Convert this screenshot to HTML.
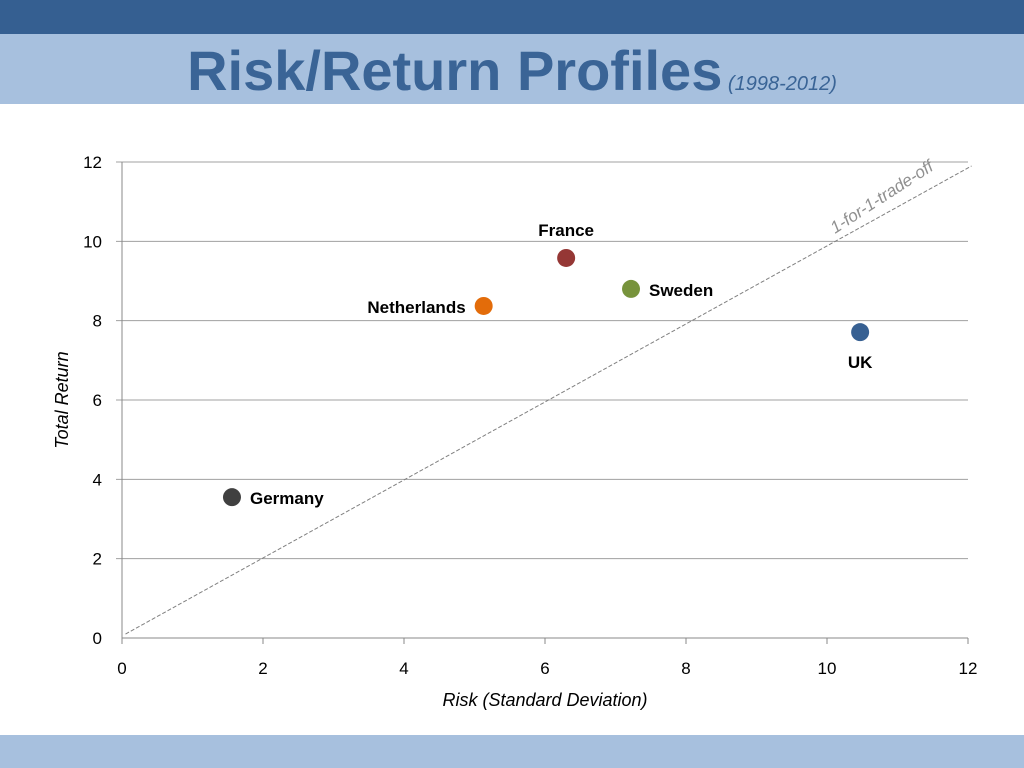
<!DOCTYPE html>
<html><head><meta charset="utf-8"><style>
body{margin:0;width:1024px;height:768px;background:#fff;font-family:"Liberation Sans",sans-serif;overflow:hidden;position:relative}
#top{position:absolute;left:0;top:0;width:1024px;height:34px;background:#355f91}
#band{position:absolute;left:0;top:34px;width:1024px;height:70px;background:#a7c0de}
#title{position:absolute;left:0;top:34px;width:1024px;text-align:center;line-height:74px;color:#3a6496;font-size:56px;font-weight:bold}
#title span{font-size:20px;font-style:italic;font-weight:normal;color:#3a6496}
#bot{position:absolute;left:0;top:735px;width:1024px;height:33px;background:#a7c0de}
svg{position:absolute;left:0;top:0}
</style></head><body>
<div id="top"></div>
<div id="band"></div>
<div id="title">Risk/Return Profiles<span> (1998-2012)</span></div>
<div id="bot"></div>
<svg id="chart" width="1024" height="768"></svg>
<script>
const countries=["Germany","Netherlands","France","Sweden","UK"];
const risk=[1.56,5.13,6.30,7.22,10.47];
const ret=[3.55,8.37,9.58,8.80,7.71];
const colors=["#404040","#e36c0a","#953735","#77933c","#376092"];
const xTicks=[0,2,4,6,8,10,12];
const yTicks=[0,2,4,6,8,10,12];
const X0=122,X1=968,Y0=638,Y1=162;
const xs=v=>X0+(v/12)*(X1-X0), ys=v=>Y0-(v/12)*(Y0-Y1);
const svg=document.getElementById('chart');const NS="http://www.w3.org/2000/svg";
function mk(t,a,txt){const e=document.createElementNS(NS,t);for(const k in a)e.setAttribute(k,a[k]);if(txt!==undefined)e.textContent=txt;svg.appendChild(e);return e;}
yTicks.forEach(v=>{
 if(v>0){const g=mk('line',{x1:X0-6,x2:X1,y1:ys(v),y2:ys(v),stroke:'#a0a0a0','stroke-width':1});
 
 }
 const t=mk('text',{x:X0-20,y:ys(v)+6,'text-anchor':'end','font-size':17,fill:'#000'},v);
 
 
});
xTicks.forEach(v=>{
 const l=mk('line',{x1:xs(v),x2:xs(v),y1:Y0,y2:Y0+6,stroke:'#888'});
 
 
 const t=mk('text',{x:xs(v),y:Y0+36,'text-anchor':'middle','font-size':17,fill:'#000'},v);
 
 
});
const ya=mk('line',{x1:X0,x2:X0,y1:Y1,y2:Y0,stroke:'#888'});


const xa=mk('line',{x1:X0,x2:X1,y1:Y0,y2:Y0,stroke:'#888'});


const tl=mk('line',{x1:xs(0.05),y1:ys(0.1),x2:xs(12.05),y2:ys(11.9),stroke:'#808080','stroke-dasharray':'4,2','stroke-width':1});


const tt=mk('text',{x:0,y:0,'font-size':17,'font-style':'italic',fill:'#909090',transform:`translate(835,234) rotate(-33)`},'1-for-1-trade-off');


const lblPos=[[18,7,'start'],[-18,7,'end'],[0,-22,'middle'],[18,7,'start'],[0,36,'middle']];
countries.forEach((c,i)=>{
 const p=mk('circle',{cx:xs(risk[i]),cy:ys(ret[i]),r:9,fill:colors[i]});
 
 
 const t=mk('text',{x:xs(risk[i])+lblPos[i][0],y:ys(ret[i])+lblPos[i][1],'text-anchor':lblPos[i][2],'font-size':17,'font-weight':'bold',fill:'#000'},c);
 
 
});
const xt=mk('text',{x:545,y:706,'text-anchor':'middle','font-size':18,'font-style':'italic'},'Risk (Standard Deviation)');


const yt=mk('text',{x:0,y:0,'text-anchor':'middle','font-size':18,'font-style':'italic',transform:'translate(68,400) rotate(-90)'},'Total Return');


</script>
</body></html>
